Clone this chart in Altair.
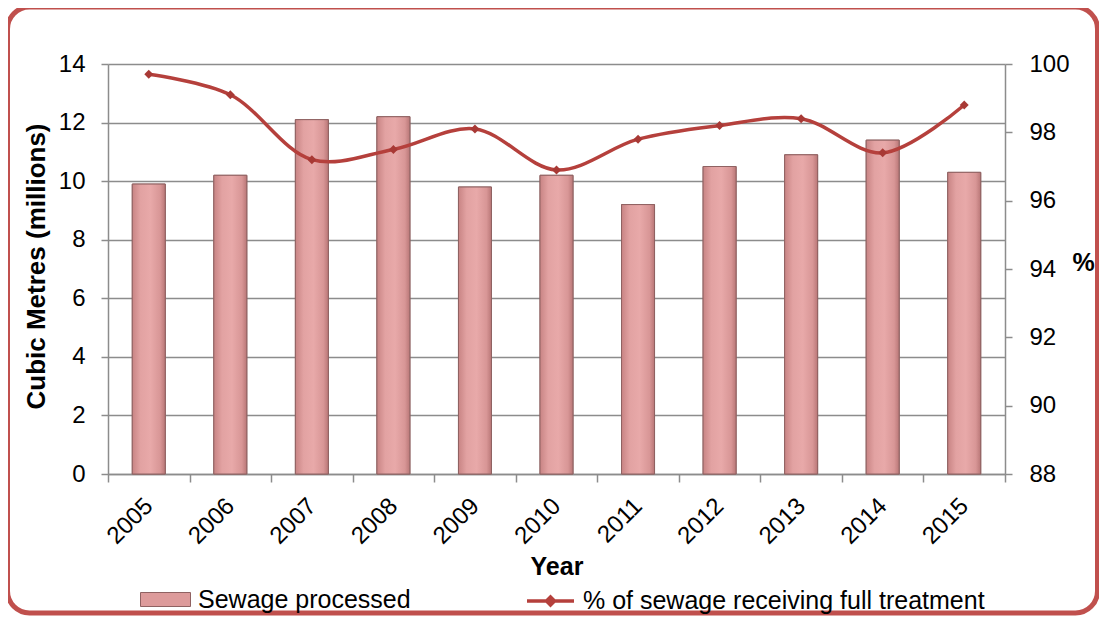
import altair as alt
import pandas as pd

years = ["2005", "2006", "2007", "2008", "2009", "2010", "2011", "2012", "2013", "2014", "2015"]
sewage = [9.9, 10.2, 12.1, 12.2, 9.8, 10.2, 9.2, 10.5, 10.9, 11.4, 10.3]
pct = [99.7, 99.1, 97.2, 97.5, 98.1, 96.9, 97.8, 98.2, 98.4, 97.4, 98.8]
series_names = ["Sewage processed", "% of sewage receiving full treatment"]
left_ticks = [0, 2, 4, 6, 8, 10, 12, 14]
right_ticks = [88, 90, 92, 94, 96, 98, 100]

df = pd.DataFrame({"Year": years, "Sewage": sewage, "Pct": pct})
df["BarSeries"] = series_names[0]
df["LineSeries"] = series_names[1]

FONT = "Liberation Sans"
GRID = "#8c8c8c"
LINE = "#b5403c"
BAR = "#dd9b9b"
BAR_EDGE = "#8f6262"
BORDER = "#c0504d"

xenc = alt.X(
    "Year:N",
    title="Year",
    scale=alt.Scale(paddingInner=0, paddingOuter=0),
    axis=alt.Axis(
        labelAngle=315, labelAlign="right", labelBaseline="middle",
        labelFont=FONT, labelFontSize=24, labelColor="black", labelPadding=20,
        tickBand="extent", tickSize=8, tickColor=GRID, tickWidth=1.5,
        domainColor=GRID, domainWidth=1.5, grid=False,
        titleFont=FONT, titleFontSize=25, titleFontWeight="bold", titleColor="black",
        titleY=92, titleBaseline="middle",
    ),
)

yleft = alt.Y(
    "Sewage:Q",
    scale=alt.Scale(domain=[0, 14], nice=False),
    axis=alt.Axis(
        orient="left", values=left_ticks, title="Cubic Metres (millions)",
        grid=True, gridColor=GRID, gridWidth=1.5,
        tickSize=7, tickColor=GRID, tickWidth=1.5,
        domainColor=GRID, domainWidth=1.5,
        labelFont=FONT, labelFontSize=24, labelColor="black", labelPadding=16,
        titleFont=FONT, titleFontSize=26, titleFontWeight="bold", titleColor="black",
        titleAngle=270, titleX=-72, titleY=202, titleAlign="center", titleBaseline="middle",
    ),
)

yright = alt.Y(
    "Pct:Q",
    scale=alt.Scale(domain=[88, 100], nice=False),
    axis=alt.Axis(
        orient="right", values=right_ticks, title="%",
        grid=False,
        tickSize=7, tickColor=GRID, tickWidth=1.5,
        domainColor=GRID, domainWidth=1.5,
        labelFont=FONT, labelFontSize=24, labelColor="black", labelPadding=17,
        titleFont=FONT, titleFontSize=25, titleFontWeight="bold", titleColor="black",
        titleAngle=0, titleX=78, titleY=198, titleAlign="center", titleBaseline="middle",
    ),
)

border = alt.Chart(pd.DataFrame({"k": [0]})).mark_rect(
    fill="transparent", stroke=BORDER, strokeWidth=5, cornerRadius=22
).encode(
    x=alt.value(-100.5), x2=alt.value(989.5), y=alt.value(-57), y2=alt.value(549)
)

bar_base = alt.Chart(df).mark_bar(size=33, stroke=BAR_EDGE, strokeWidth=1).encode(
    x=xenc,
    y=yleft,
    fill=alt.Fill(
        "BarSeries:N",
        scale=alt.Scale(domain=[series_names[0]], range=[BAR]),
        legend=alt.Legend(
            orient="none", legendX=32, legendY=510, title=None, padding=0,
            symbolType="M-1,-0.28H1V0.28H-1Z", symbolSize=2500,
            symbolStrokeColor=BAR_EDGE, symbolStrokeWidth=1,
            labelFont=FONT, labelFontSize=25, labelColor="black", labelOffset=7,
            labelLimit=800,
        ),
    ),
)

grad = alt.Gradient(
    gradient="linear", x1=0, x2=1, y1=0, y2=0,
    stops=[
        alt.GradientStop(color="#c88484", offset=0),
        alt.GradientStop(color="#e2a2a2", offset=0.25),
        alt.GradientStop(color="#e8a9a9", offset=0.55),
        alt.GradientStop(color="#d89696", offset=0.85),
        alt.GradientStop(color="#b97777", offset=1),
    ],
)

bar_grad = alt.Chart(df).mark_bar(size=33, fill=grad, stroke=BAR_EDGE, strokeWidth=1).encode(
    x=xenc, y=yleft
)

bars = alt.layer(bar_base, bar_grad)

line = alt.Chart(df).mark_line(interpolate="catmull-rom", strokeWidth=3.5).encode(
    x=xenc,
    y=yright,
    stroke=alt.Stroke(
        "LineSeries:N",
        scale=alt.Scale(domain=[series_names[1]], range=[LINE]),
        legend=alt.Legend(
            orient="none", legendX=417, legendY=511.5, title=None, padding=0,
            symbolType="M-1,0H1M0,-0.17L0.17,0L0,0.17L-0.17,0Z", symbolSize=2209,
            symbolStrokeWidth=3.5,
            labelFont=FONT, labelFontSize=25, labelColor="black", labelOffset=7,
            labelLimit=800,
        ),
    ),
)

points = alt.Chart(df).mark_point(shape="diamond", filled=True, size=80, color="#a83935", opacity=1).encode(
    x=xenc, y=yright
)

lines = alt.layer(line, points)

chart = alt.layer(border, bars, lines).resolve_scale(y="independent").properties(
    width=897, height=410,
    autosize="none",
    padding={"left": 100, "top": 56, "right": 94, "bottom": 142},
    background="white",
).configure_view(strokeWidth=0)

chart.save("out.html", embed_options={"renderer": "svg", "actions": False})
